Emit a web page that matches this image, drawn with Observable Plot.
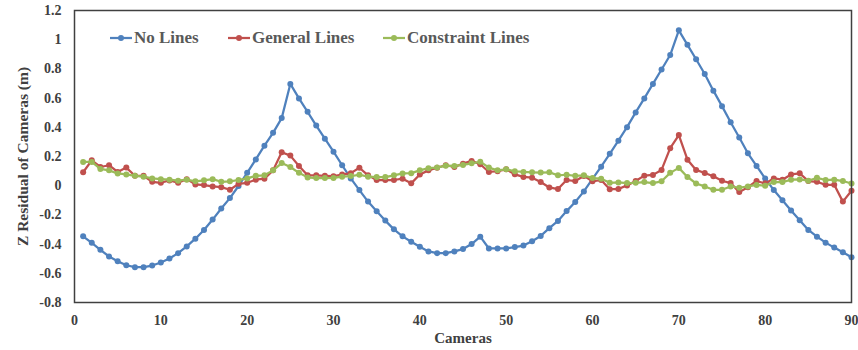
<!DOCTYPE html>
<html>
<head>
<meta charset="utf-8">
<script src="https://cdn.jsdelivr.net/npm/d3@7"></script>
<script src="https://cdn.jsdelivr.net/npm/@observablehq/plot@0.6"></script>
<style>
  body { margin: 0; background: #fff; }
  #wrap { position: relative; width: 858px; height: 350px; font-family: "Liberation Serif", "Times New Roman", serif; }
  .leg { position: absolute; top: 28px; height: 20px; display: flex; align-items: center; font-weight: bold; font-size: 17px; color: #595959; white-space: nowrap; }
  .leg svg { margin-right: 2px; }
</style>
</head>
<body>
<div id="wrap"></div>
<script>
const seriesNames = ["No Lines", "General Lines", "Constraint Lines"];
const seriesColors = ["#4F81BD", "#C0504D", "#9BBB59"];
const cameras = d3.range(1, 91);
const xTicks = [0, 10, 20, 30, 40, 50, 60, 70, 80, 90];
const yTicks = [-0.8, -0.6, -0.4, -0.2, 0, 0.2, 0.4, 0.6, 0.8, 1, 1.2];
const yTickLabels = ["-0.8", "-0.6", "-0.4", "-0.2", "0", "0.2", "0.4", "0.6", "0.8", "1", "1.2"];

const noLines = [
  -0.347, -0.391, -0.439, -0.485, -0.517, -0.545, -0.558, -0.558, -0.547, -0.526,
  -0.499, -0.462, -0.416, -0.363, -0.303, -0.232, -0.156, -0.085, -0.002, 0.088,
  0.180, 0.274, 0.362, 0.463, 0.697, 0.598, 0.506, 0.412, 0.322, 0.233,
  0.140, 0.050, -0.030, -0.109, -0.175, -0.239, -0.299, -0.347, -0.384, -0.418,
  -0.450, -0.462, -0.462, -0.450, -0.434, -0.400, -0.349, -0.430, -0.430, -0.430,
  -0.420, -0.410, -0.380, -0.344, -0.291, -0.241, -0.174, -0.112, -0.039, 0.047,
  0.130, 0.218, 0.308, 0.401, 0.502, 0.598, 0.697, 0.796, 0.895, 1.064,
  0.965, 0.866, 0.765, 0.651, 0.545, 0.435, 0.330, 0.222, 0.135, 0.050,
  -0.030, -0.100, -0.170, -0.237, -0.303, -0.349, -0.390, -0.424, -0.456, -0.490
];
const generalLines = [
  0.092, 0.174, 0.128, 0.140, 0.094, 0.124, 0.068, 0.068, 0.027, 0.020,
  0.036, 0.020, 0.045, 0.009, 0.004, -0.005, -0.010, -0.028, 0.013, 0.020,
  0.041, 0.048, 0.105, 0.229, 0.206, 0.135, 0.071, 0.071, 0.068, 0.065,
  0.076, 0.086, 0.123, 0.071, 0.039, 0.039, 0.039, 0.048, 0.016, 0.077,
  0.105, 0.123, 0.140, 0.128, 0.151, 0.170, 0.147, 0.094, 0.099, 0.112,
  0.078, 0.060, 0.055, 0.025, -0.012, -0.023, 0.039, 0.032, 0.067, 0.030,
  0.039, -0.024, -0.023, 0.002, 0.032, 0.069, 0.074, 0.108, 0.257, 0.347,
  0.178, 0.108, 0.087, 0.065, 0.034, 0.018, -0.044, -0.010, 0.032, 0.016,
  0.050, 0.041, 0.077, 0.085, 0.032, 0.027, 0.006, 0.006, -0.109, -0.035
];
const constraintLines = [
  0.163, 0.163, 0.115, 0.105, 0.084, 0.077, 0.068, 0.062, 0.050, 0.045,
  0.041, 0.034, 0.041, 0.030, 0.037, 0.045, 0.027, 0.030, 0.039, 0.050,
  0.068, 0.071, 0.105, 0.155, 0.128, 0.088, 0.057, 0.052, 0.052, 0.053,
  0.062, 0.066, 0.075, 0.062, 0.059, 0.059, 0.071, 0.084, 0.086, 0.105,
  0.120, 0.124, 0.137, 0.135, 0.142, 0.153, 0.164, 0.124, 0.105, 0.112,
  0.099, 0.094, 0.092, 0.090, 0.092, 0.071, 0.075, 0.068, 0.071, 0.052,
  0.048, 0.020, 0.022, 0.018, 0.020, 0.025, 0.018, 0.030, 0.088, 0.122,
  0.060, 0.015, -0.005, -0.028, -0.028, -0.005, -0.014, -0.005, 0.005, 0.000,
  0.025, 0.025, 0.041, 0.043, 0.034, 0.054, 0.039, 0.041, 0.032, 0.015
];

const seriesValues = [noLines, generalLines, constraintLines];
const rows = [];
seriesValues.forEach((vals, s) => {
  vals.forEach((v, i) => rows.push({series: seriesNames[s], camera: cameras[i], value: v}));
});

const marks = [];
seriesNames.forEach((name, s) => {
  const d = rows.filter(r => r.series === name);
  marks.push(Plot.line(d, {x: "camera", y: "value", stroke: seriesColors[s], strokeWidth: 2.25}));
  marks.push(Plot.dot(d, {x: "camera", y: "value", fill: seriesColors[s], r: 3}));
});

const chart = Plot.plot({
  width: 858,
  height: 350,
  marginLeft: 74,
  marginRight: 7,
  marginTop: 10,
  marginBottom: 48,
  style: {fontFamily: "'Liberation Serif', 'Times New Roman', serif", fontSize: "14px", fontWeight: "bold", color: "#404040", background: "#fff"},
  x: {domain: [0, 90]},
  y: {domain: [-0.8, 1.2]},
  marks: [
    Plot.axisY({ticks: yTicks, tickFormat: (d) => yTickLabels[yTicks.indexOf(d)], tickSize: 0, tickPadding: 13,
      label: "Z Residual of Cameras (m)", labelArrow: false, labelAnchor: "center", labelOffset: 58, fontSize: 14}),
    Plot.axisY({ticks: [], label: null}),
    Plot.axisX({ticks: xTicks, tickSize: 0, tickPadding: 13, label: "Cameras", labelArrow: false, labelAnchor: "center", labelOffset: 40, fontSize: 14}),
    ...marks,
    Plot.frame({stroke: "#404040", strokeWidth: 1.5})
  ]
});

// enlarge the y-axis title a little, as in the reference
chart.querySelectorAll("text").forEach(t => {
  if (t.textContent === "Z Residual of Cameras (m)") t.setAttribute("font-size", "15.5");
  if (t.textContent === "Cameras") t.setAttribute("font-size", "15");
});

const wrap = document.getElementById("wrap");
wrap.appendChild(chart);

// legend overlay
const legendPos = [110, 228, 383];
seriesNames.forEach((name, s) => {
  const div = document.createElement("div");
  div.className = "leg";
  div.style.left = legendPos[s] + "px";
  div.innerHTML = `<svg width="22" height="10"><line x1="0" x2="22" y1="5" y2="5" stroke="${seriesColors[s]}" stroke-width="2.25"/><circle cx="11" cy="5" r="3" fill="${seriesColors[s]}"/></svg><span>${name}</span>`;
  wrap.appendChild(div);
});
</script>
</body>
</html>
